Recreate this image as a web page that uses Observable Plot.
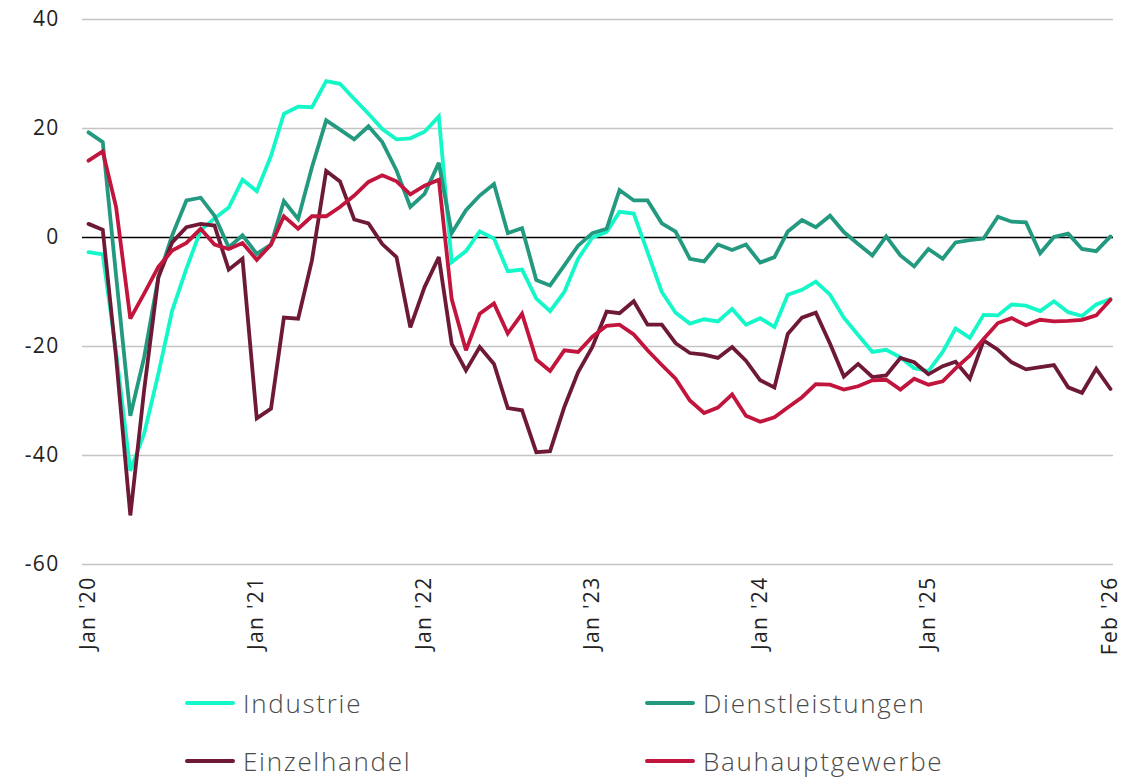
<!DOCTYPE html>
<html>
<head>
<meta charset="utf-8">
<script src="https://cdn.jsdelivr.net/npm/d3@7"></script>
<script src="https://cdn.jsdelivr.net/npm/@observablehq/plot@0.6"></script>
<style>
  html, body { margin: 0; padding: 0; background: #fff; }
  #wrap { position: relative; width: 1142px; height: 778px; font-family: "Open Sans", sans-serif; overflow: hidden; }
  #legend { position: absolute; left: 0; top: 672px; width: 1142px; height: 106px; }
  .item { position: absolute; display: flex; align-items: center; font-size: 26px; line-height: 26px; height: 26px; color: #4a4a4a; font-weight: 300; letter-spacing: 1.7px; white-space: nowrap; }
  .sw { width: 50px; height: 4px; border-radius: 2px; margin-right: 8px; }
</style>
</head>
<body>
<div id="wrap"><div id="chart"></div><div id="legend"></div></div>
<script>
const seriesNames = ["Industrie", "Dienstleistungen", "Einzelhandel", "Bauhauptgewerbe"];
const seriesColors = ["#14f7c8", "#23997f", "#6e1a36", "#c2153d"];

const industrie = [-2.7,-3.1,-21,-42.8,-36,-25,-13.4,-5.7,1.3,3.5,5.5,10.6,8.5,15,22.7,24,23.9,28.7,28.2,25.4,22.7,19.9,18,18.2,19.4,22.2,-4.5,-2.5,1.1,-0.2,-6.2,-5.9,-11.2,-13.5,-10,-3.9,0,1,4.7,4.4,-2.7,-10,-13.8,-15.8,-15,-15.4,-13.1,-16,-14.8,-16.4,-10.5,-9.6,-8.1,-10.5,-14.7,-17.9,-21,-20.6,-22,-24,-24.5,-21,-16.7,-18.4,-14.2,-14.3,-12.3,-12.5,-13.5,-11.7,-13.7,-14.4,-12.3,-11.3];
const dienstleistungen = [19.3,17.5,-7,-32.7,-22,-7.3,0.4,6.8,7.3,4,-1.8,0.4,-3,-1.3,6.7,3.4,12.9,21.5,19.8,18,20.4,17.5,12.3,5.6,8,13.7,0.8,5,7.7,9.8,0.8,1.7,-7.8,-8.8,-5.1,-1.5,0.8,1.6,8.7,6.8,6.8,2.6,1.1,-3.9,-4.4,-1.3,-2.3,-1.3,-4.6,-3.6,1.1,3.2,1.9,4,1,-1.2,-3.3,0.2,-3.3,-5.3,-2.1,-3.9,-0.9,-0.5,-0.2,3.8,2.9,2.8,-2.9,0.1,0.7,-2.1,-2.5,0.2];
const einzelhandel = [2.5,1.4,-22,-51,-28,-7.3,-0.9,1.9,2.5,2.2,-5.9,-3.9,-33.2,-31.4,-14.7,-14.9,-4.2,12.2,10.3,3.3,2.6,-1.2,-3.6,-16.5,-9.1,-3.6,-19.5,-24.4,-20.1,-23.2,-31.3,-31.7,-39.4,-39.2,-31.1,-24.7,-20.1,-13.6,-13.9,-11.7,-16,-16,-19.4,-21.2,-21.5,-22.1,-20.1,-22.6,-26.2,-27.5,-17.7,-14.7,-13.8,-19.5,-25.5,-23.2,-25.6,-25.3,-22.1,-22.9,-25.1,-23.6,-22.8,-25.9,-18.9,-20.6,-22.9,-24.2,-23.8,-23.4,-27.5,-28.5,-24.1,-27.8];
const bauhauptgewerbe = [14.1,15.8,5.6,-14.9,-10.3,-5.4,-2.4,-1,1.6,-1.3,-2.1,-1,-4.1,-1.3,3.9,1.6,3.9,3.9,5.6,7.7,10.2,11.4,10.3,7.9,9.5,10.6,-11.3,-20.7,-14,-12.1,-17.6,-14,-22.4,-24.5,-20.7,-21,-18.2,-16.2,-16,-17.8,-20.7,-23.4,-25.9,-29.9,-32.2,-31.2,-28.8,-32.7,-33.8,-33,-31.2,-29.3,-26.9,-27,-27.9,-27.3,-26.2,-26.1,-27.9,-25.9,-27,-26.4,-24,-21.7,-18.6,-15.7,-14.8,-16.1,-15.1,-15.4,-15.3,-15.1,-14.3,-11.4];

const months = industrie.map((_, i) => new Date(Date.UTC(2020, i, 1)));
const xTickDates = [new Date(Date.UTC(2020,0,1)), new Date(Date.UTC(2021,0,1)), new Date(Date.UTC(2022,0,1)), new Date(Date.UTC(2023,0,1)), new Date(Date.UTC(2024,0,1)), new Date(Date.UTC(2025,0,1)), new Date(Date.UTC(2026,1,1))];
const xTickLabels = ["Jan '20", "Jan '21", "Jan '22", "Jan '23", "Jan '24", "Jan '25", "Feb '26"];
const yTicks = [-60, -40, -20, 0, 20, 40];

const allSeries = [industrie, dienstleistungen, einzelhandel, bauhauptgewerbe];
const data = [];
allSeries.forEach((vals, s) => vals.forEach((v, i) => data.push({date: months[i], value: v, series: seriesNames[s]})));

const labelMap = new Map(xTickDates.map((d, i) => [+d, xTickLabels[i]]));

const chart = Plot.plot({
  width: 1142,
  height: 672,
  marginLeft: 88,
  marginRight: 32,
  marginTop: 19,
  marginBottom: 108,
  style: {fontFamily: "Open Sans, sans-serif", fontSize: "21px", color: "#222", background: "#fff", overflow: "visible", letterSpacing: "1.3px"},
  x: {type: "utc", domain: [months[0], months[months.length - 1]], label: null},
  y: {domain: [-60, 40], label: null},
  color: {domain: seriesNames, range: seriesColors},
  marks: [
    Plot.ruleY(yTicks.filter(d => d !== 0), {stroke: "#c4c4c4", strokeWidth: 1.3, insetLeft: -6, insetRight: -3}),
    Plot.axisY(yTicks, {tickSize: 0, tickPadding: 29, fontSize: 21, fill: "#222", label: null, tickFormat: d => String(d)}),
    Plot.axisX(xTickDates, {tickSize: 0, tickPadding: 12, tickRotate: -90, fontSize: 21, fill: "#222", label: null, tickFormat: d => labelMap.get(+d)}),
    Plot.ruleY([0], {stroke: "#000", strokeWidth: 1.6, insetLeft: -6, insetRight: -3}),
    Plot.line(data, {x: "date", y: "value", z: "series", stroke: "series", strokeWidth: 3.8, strokeLinejoin: "miter", strokeMiterlimit: 3})
  ]
});
document.getElementById("chart").appendChild(chart);

const legend = document.getElementById("legend");
const pos = [[185, 31], [645, 31], [185, 89], [645, 89]];
seriesNames.forEach((name, i) => {
  const it = document.createElement("div");
  it.className = "item";
  it.style.left = pos[i][0] + "px";
  it.style.top = (pos[i][1] - 13) + "px";
  const sw = document.createElement("div");
  sw.className = "sw";
  sw.style.background = seriesColors[i];
  const tx = document.createElement("span");
  tx.textContent = name;
  it.appendChild(sw);
  it.appendChild(tx);
  legend.appendChild(it);
});
</script>
</body>
</html>
